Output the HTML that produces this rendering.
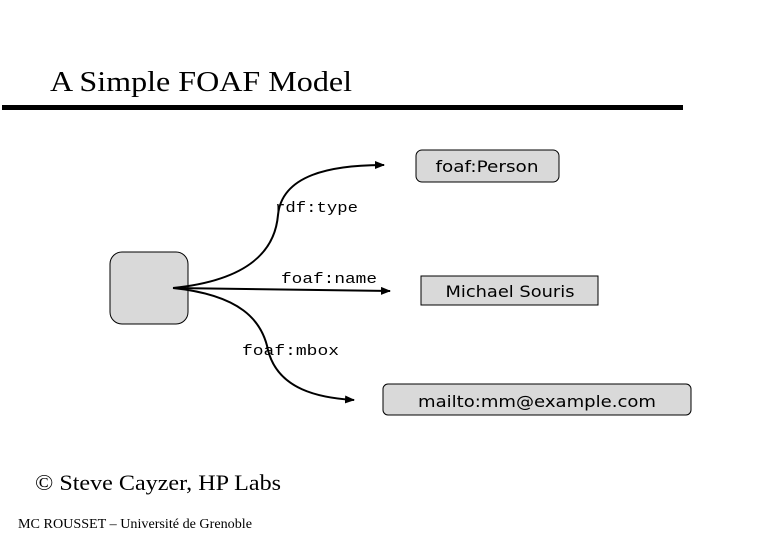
<!DOCTYPE html>
<html><head><meta charset="utf-8"><style>
html,body{margin:0;padding:0;background:#fff;width:780px;height:540px;overflow:hidden}
</style></head><body>
<svg width="780" height="540" viewBox="0 0 780 540" xmlns="http://www.w3.org/2000/svg">
<defs>
<marker id="a" markerWidth="10" markerHeight="8" refX="9" refY="4" orient="auto" markerUnits="userSpaceOnUse">
<path d="M0,0 L10,4 L0,8 z" fill="#000"/></marker>
</defs>
<text x="50" y="91" font-family="Liberation Serif, serif" font-size="29" textLength="302" lengthAdjust="spacingAndGlyphs">A Simple FOAF Model</text>
<rect x="2" y="105" width="681" height="5" fill="#000"/>

<rect x="110" y="252" width="78" height="72" rx="12" fill="#d9d9d9" stroke="#000" stroke-width="1"/>

<path d="M173,288 C250,280 275,250 278,215 C282,175 330,165 384,165" fill="none" stroke="#000" stroke-width="2" marker-end="url(#a)"/>
<path d="M173,288 L390,291" fill="none" stroke="#000" stroke-width="2" marker-end="url(#a)"/>
<path d="M173,288 C240,295 262,320 268,350 C278,390 320,398 354,400" fill="none" stroke="#000" stroke-width="2" marker-end="url(#a)"/>

<text x="275" y="212" font-family="Liberation Mono, monospace" font-size="15" textLength="83" lengthAdjust="spacingAndGlyphs">rdf:type</text>
<text x="281" y="283" font-family="Liberation Mono, monospace" font-size="15" textLength="96" lengthAdjust="spacingAndGlyphs">foaf:name</text>
<text x="242" y="355" font-family="Liberation Mono, monospace" font-size="15" textLength="97" lengthAdjust="spacingAndGlyphs">foaf:mbox</text>

<rect x="416" y="150" width="143" height="32" rx="6" fill="#d9d9d9" stroke="#000" stroke-width="1"/>
<text x="487" y="172" text-anchor="middle" font-family="DejaVu Sans, sans-serif" font-size="16" textLength="103" lengthAdjust="spacingAndGlyphs">foaf:Person</text>

<rect x="421" y="276" width="177" height="29" fill="#d9d9d9" stroke="#000" stroke-width="1"/>
<text x="510" y="297" text-anchor="middle" font-family="DejaVu Sans, sans-serif" font-size="16" textLength="129" lengthAdjust="spacingAndGlyphs">Michael Souris</text>

<rect x="383" y="384" width="308" height="31" rx="5" fill="#d9d9d9" stroke="#000" stroke-width="1"/>
<text x="537" y="407" text-anchor="middle" font-family="DejaVu Sans, sans-serif" font-size="16" textLength="238" lengthAdjust="spacingAndGlyphs">mailto:mm@example.com</text>

<text x="35" y="490" font-family="Liberation Serif, serif" font-size="22" textLength="246" lengthAdjust="spacingAndGlyphs">© Steve Cayzer, HP Labs</text>
<text x="18" y="528" font-family="Liberation Serif, serif" font-size="14" textLength="234" lengthAdjust="spacingAndGlyphs">MC ROUSSET – Université de Grenoble</text>
</svg>
</body></html>
